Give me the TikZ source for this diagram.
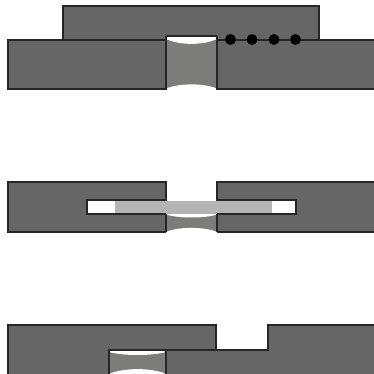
\documentclass[tikz,border=0pt]{standalone}
\definecolor{blockgray}{HTML}{666666}
\definecolor{fluidgray}{HTML}{7C7C7A}
\definecolor{lightgray2}{HTML}{B4B4B4}
\tikzset{
  blockfill/.style={fill=blockgray,draw=black!85,line width=1pt,line join=miter},
  fluid/.style={fill=fluidgray,draw=none},
  film/.style={fill=lightgray2,draw=none},
  edge/.style={draw=black!85,line width=1pt},
  bead/.style={fill=black,draw=none}
}
\begin{document}
\begin{tikzpicture}[x=0.75pt,y=-0.75pt]
\useasboundingbox (0,0) rectangle (374,374);
% Panel 1
\path[blockfill] (63,6) rectangle (319,40);
\path[fluid] (166,36) rectangle (217,89);
\fill[white] (166,36.5) -- (217,36.5) -- (217,39) .. controls (203,45.5) and (180,45.5) .. (166,39) -- cycle;
\fill[white] (166,89.5) -- (217,89.5) -- (217,88.5) .. controls (203,83) and (180,83) .. (166,88.5) -- cycle;
\path[blockfill] (374.6,40) -- (217,40) -- (217,89) -- (374.6,89);
\path[blockfill] (8,40) rectangle (166,89);
\draw[edge] (166,36) -- (217,36);
\draw[edge] (217,36) -- (217,40);
\draw[edge] (166,36) -- (166,40);
\foreach \x in {230.5,252,274,295.5} \fill[bead] (\x,39.5) circle [radius=5.5];
% Panel 2
\path[blockfill] (8,182) rectangle (166,232);
\path[blockfill] (374.6,182) -- (217,182) -- (217,232) -- (374.6,232);
\path[fluid] (166,214) rectangle (217,232);
\fill[white] (166,214) -- (217,214) -- (217,214.5) .. controls (205,218.5) and (178,218.5) .. (166,214.5) -- cycle;
\fill[white] (166,233) -- (217,233) -- (217,232) .. controls (205,226.5) and (178,226.5) .. (166,232) -- cycle;
\path[blockfill,fill=white] (87,200) rectangle (166,214);
\path[blockfill,fill=white] (217,200) rectangle (296,214);
\fill[white] (165.5,200.6) rectangle (217.5,213.4);
\path[film] (115,200.6) rectangle (272,214);
\draw[edge] (87,200) -- (87,214) -- (115,214);
\draw[edge] (87,200) -- (166,200);
\draw[edge] (217,200) -- (296,200) -- (296,214) -- (217,214);
\draw[edge] (115,214) -- (166,214);
\draw[edge] (166,182) -- (166,200);
\draw[edge] (217,182) -- (217,200);
\draw[edge] (166,214) -- (166,232);
\draw[edge] (217,214) -- (217,232);
% Panel 3
\path[blockfill] (8,374.6) -- (8,325) -- (216,325) -- (216,350) -- (268,350) -- (268,325) -- (374.6,325) -- (374.6,374.6);
\path[fluid] (109,350) rectangle (166,374.6);
\fill[white] (109,351) -- (166,351) -- (166,352) .. controls (152,356) and (123,356) .. (109,352) -- cycle;
\fill[white] (109,374.6) -- (166,374.6) -- (166,374) .. controls (152,367.5) and (123,367.5) .. (109,374) -- cycle;
\draw[edge] (109,374.6) -- (109,350) -- (216,350);
\draw[edge] (166,350) -- (166,374.6);
\end{tikzpicture}
\end{document}
